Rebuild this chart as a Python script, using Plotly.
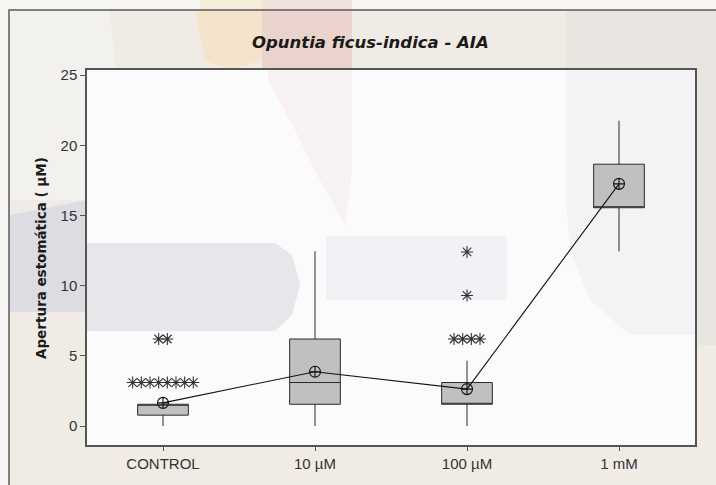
import plotly.graph_objects as go

# ---------------- data ----------------
categories = ["CONTROL", "10 µM", "100 µM", "1 mM"]
q1 = [0.775, 1.55, 1.55, 15.55]
median = [1.55, 3.1, 1.55, 15.55]
q3 = [1.55, 6.2, 3.1, 18.65]
lower_whisker = [0.0, 0.0, 0.0, 12.45]
upper_whisker = [1.55, 12.45, 4.65, 21.75]
means = [1.65, 3.87, 2.63, 17.25]
outliers = [[3.1] * 8 + [6.2] * 2, [], [6.2] * 4 + [9.3, 12.4], []]
y_ticks = [0, 5, 10, 15, 20, 25]

title_text = "Opuntia ficus-indica - AIA"
y_title = "Apertura estomática ( µM)"

# ---------------- geometry ----------------
W, H = 716, 485
ML, MR, MT, MB = 87, 21, 70, 40
PW, PH = W - ML - MR, H - MT - MB


def px(x):
    return (x - ML) / PW


def py(y):
    return (H - MB - y) / PH


xpos = list(range(len(categories)))

# outlier positions: ties spread side by side (Minitab style)
OUT_STEP = 0.057
out_x, out_y = [], []
for i, vals in enumerate(outliers):
    groups = {}
    for v in vals:
        groups[v] = groups.get(v, 0) + 1
    for v, n in groups.items():
        for k in range(n):
            out_x.append(i + (k - (n - 1) / 2) * OUT_STEP)
            out_y.append(v)

fig = go.Figure()

fig.add_trace(go.Box(
    x=xpos, q1=q1, median=median, q3=q3,
    lowerfence=lower_whisker, upperfence=upper_whisker,
    width=1 / 3, whiskerwidth=0,
    fillcolor="#c0c0c0", line=dict(color="#2a2a2a", width=1),
    boxpoints=False, showlegend=False, hoverinfo="skip",
))

fig.add_trace(go.Scatter(
    x=out_x, y=out_y, mode="markers",
    marker=dict(symbol="asterisk-open", size=10, color="#333333",
                line=dict(color="#333333", width=1.1)),
    showlegend=False, hoverinfo="skip",
))

fig.add_trace(go.Scatter(
    x=xpos, y=means, mode="lines+markers",
    line=dict(color="#111111", width=1.1),
    marker=dict(symbol="circle-cross-open", size=11, color="#111111",
                line=dict(color="#111111", width=1.1)),
    showlegend=False, hoverinfo="skip",
))

# ---------------- background / watermark ----------------
shapes = []


def poly(points, color, opacity=1.0):
    d = "M " + " L ".join(f"{px(x):.4f},{py(y):.4f}" for x, y in points) + " Z"
    shapes.append(dict(type="path", xref="paper", yref="paper", path=d,
                       fillcolor=color, line=dict(width=0), layer="below",
                       opacity=opacity))


def rect(x0, y0, x1, y1, color, line=None):
    shapes.append(dict(type="rect", xref="paper", yref="paper",
                       x0=px(x0), y0=py(y0), x1=px(x1), y1=py(y1),
                       fillcolor=color,
                       line=line if line else dict(width=0), layer="below"))


# outside-frame watermark bits
poly([(200, 0), (262, 0), (262, 10), (200, 10)], "#f6ecda")
poly([(262, 0), (352, 0), (352, 10), (262, 10)], "#f2e2de")
# frame fill
rect(9, 10, 730, 500, "#f0ece5")
# watermark pieces outside plot
poly([(10, 10), (110, 10), (120, 120), (87, 200), (10, 200)], "#f3f1ee")
poly([(195, 10), (262, 10), (262, 60), (230, 70), (205, 60)], "#f3e4cb")
poly([(262, 10), (352, 10), (352, 70), (262, 70)], "#ebd3cd")
poly([(10, 215), (87, 200), (87, 312), (10, 312)], "#dcdce2")
poly([(566, 10), (716, 10), (716, 345), (695, 345), (695, 70), (566, 70)], "#e9e6e1")
# plot area
rect(87, 70, 695, 445, "#ffffff")
poly([(87, 70), (695, 70), (695, 445), (87, 445)], "#fbfbfc")
poly([(268, 70), (352, 70), (352, 170), (345, 225), (320, 180), (290, 120), (268, 80)], "#f8f1f1")
poly([(87, 243), (275, 243), (292, 255), (300, 285), (292, 315), (275, 331), (87, 331)], "#e6e6eb")
poly([(326, 236), (507, 236), (507, 300), (326, 300)], "#f2f2f6")
poly([(566, 70), (695, 70), (695, 335), (630, 335), (590, 300), (570, 250), (566, 200)], "#f3f3f6")
# frame border
rect(9, 10, 730, 500, "rgba(0,0,0,0)", line=dict(color="#5a5a5a", width=1.5))

fig.update_layout(shapes=shapes)

fig.add_annotation(
    text=title_text, x=px(370), y=py(43), xref="paper", yref="paper",
    showarrow=False, xanchor="center", yanchor="middle",
    font=dict(family="DejaVu Sans", size=16.5, color="#1a1a1a",
              weight="bold", style="italic"),
)
fig.add_annotation(
    text=y_title, x=px(41), y=py(258), xref="paper", yref="paper",
    showarrow=False, xanchor="center", yanchor="middle", textangle=-90,
    font=dict(family="DejaVu Sans", size=13.5, color="#1a1a1a", weight="bold"),
)

tick_font = dict(family="Liberation Sans, Arial", size=15, color="#333333")

fig.update_xaxes(
    range=[-0.5, 3.5], tickvals=xpos, ticktext=categories,
    showgrid=False, zeroline=False, showline=True, mirror=True,
    linecolor="#555555", linewidth=1.5, ticks="outside", ticklen=4,
    tickcolor="#555555", tickfont=tick_font,
)
fig.update_yaxes(
    range=[-1.35, 25.36], tickvals=y_ticks,
    showgrid=False, zeroline=False, showline=True, mirror=True,
    linecolor="#555555", linewidth=1.5, ticks="outside", ticklen=5,
    tickcolor="#555555", tickfont=tick_font,
)

fig.update_layout(
    width=W, height=H,
    margin=dict(l=ML, r=MR, t=MT, b=MB),
    paper_bgcolor="#f7f6f4", plot_bgcolor="rgba(0,0,0,0)",
    showlegend=False,
)

fig.write_html(
    "out.html",
    config={"displayModeBar": False},
    post_script="document.body.style.margin='0';document.body.style.overflow='hidden';",
)
